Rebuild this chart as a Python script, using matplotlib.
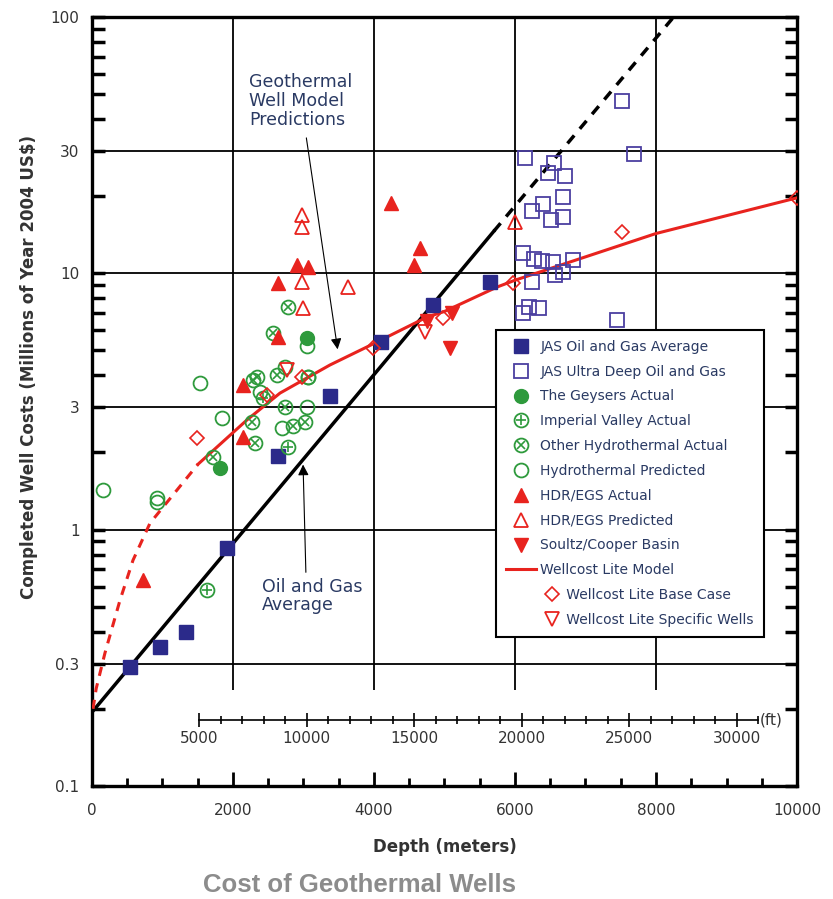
import matplotlib
matplotlib.use("Agg")
import matplotlib.pyplot as plt
from matplotlib.ticker import FixedLocator, NullFormatter
from matplotlib.legend_handler import HandlerLine2D
import matplotlib.transforms as mtransforms

# ---- data (depth in metres, cost in millions of 2004 US$) ----
jas_avg_x = [540, 965, 1333, 1915, 2638, 3376, 4099, 4837, 5645]
jas_avg_y = [0.29, 0.348, 0.40, 0.85, 1.94, 3.32, 5.39, 7.52, 9.25]

jas_deep_x = [7518, 7688, 6142, 6553, 6468, 6709, 6681, 6397, 6241, 6511, 6681,
              6113, 6270, 6383, 6539, 6823, 6567, 6681, 6241, 6113, 6199, 6340, 7447]
jas_deep_y = [47, 29.2, 28.2, 26.9, 24.6, 24.0, 19.9, 18.6, 17.5, 16.1, 16.6,
              12.0, 11.4, 11.2, 11.07, 11.3, 9.85, 10.1, 9.25, 7.0, 7.39, 7.32, 6.57]

geysers_x = [3050, 1816]
geysers_y = [5.6, 1.74]

imperial_x = [1631, 2426, 2780]
imperial_y = [0.58, 3.26, 2.10]

other_hydro_x = [2780, 2567, 2284, 2340, 2624, 2738, 2270, 2851, 3021, 2312, 1716, 3064]
other_hydro_y = [7.39, 5.85, 3.83, 3.94, 4.01, 3.01, 2.63, 2.54, 2.62, 2.18, 1.92, 3.94]

hydro_pred_x = [156, 922, 922, 1532, 1844, 3050, 2383, 2738, 3064, 3050, 2695]
hydro_pred_y = [1.43, 1.33, 1.28, 3.73, 2.73, 5.2, 3.44, 4.3, 3.94, 3.0, 2.5]

hdr_act_x = [4241, 4652, 4567, 2908, 3064, 2638, 2638, 2142, 2142, 723]
hdr_act_y = [18.8, 12.5, 10.8, 10.8, 10.6, 9.17, 5.64, 3.66, 2.3, 0.636]

hdr_pred_x = [2979, 2979, 2979, 3631, 2993, 6000]
hdr_pred_y = [16.9, 15.2, 9.25, 8.85, 7.32, 15.85]

soultz_x = [4752, 5106, 5078]
soultz_y = [6.5, 7.0, 5.11]

base_case_x = [1489, 2482, 2979, 3986, 4979, 5972, 7518, 10000]
base_case_y = [2.28, 3.35, 3.94, 5.11, 6.69, 9.17, 14.5, 19.7]

specific_x = [2766, 4723]
specific_y = [4.2, 5.9]

model_dash_x = [15, 60, 184, 397, 582, 823, 1035, 1504]
model_dash_y = [0.2, 0.24, 0.33, 0.53, 0.76, 1.06, 1.25, 1.8]
model_x = [1504, 2199, 2667, 3376, 3986, 4752, 5000, 5745, 6000, 8000, 10000]
model_y = [1.8, 2.68, 3.41, 4.39, 5.3, 6.75, 7.1, 8.84, 9.4, 14.3, 19.7]

oil_x = [0, 5700]
oil_y = [0.194, 14.6]
oil_dash_x = [5700, 8250]
oil_dash_y = [14.6, 100]

x_ticks = [0, 2000, 4000, 6000, 8000, 10000]
y_ticks = [0.1, 0.3, 1, 3, 10, 30, 100]
y_labels = ["0.1", "0.3", "1", "3", "10", "30", "100"]
ft_ticks = [5000, 10000, 15000, 20000, 25000, 30000]

navy = "#2b2a8a"
purple = "#4b3fa0"
green = "#2e9a3c"
red = "#e8231e"
txt = "#2a3a63"

fig = plt.figure(figsize=(8.33, 8.99), dpi=100)
ax = fig.add_axes([0.1104, 0.1257, 0.8464, 0.8554])
ax.set_yscale("log")
ax.set_xlim(0, 10000)
ax.set_ylim(0.1, 100)

# grid
for yv in y_ticks[1:-1]:
    ax.axhline(yv, color="black", lw=1.3, zorder=1)
ax.vlines(x_ticks[1:-1], 0.236, 100, color="black", lw=1.3, zorder=1)

# lines
ax.plot(oil_x, oil_y, color="black", lw=2.5, zorder=3)
ax.plot(oil_dash_x, oil_dash_y, color="black", lw=2.5, dashes=(3, 2.5), zorder=3)
ax.plot(model_dash_x, model_dash_y, color=red, lw=2.2, dashes=(3, 2.5), zorder=3)
model_line, = ax.plot(model_x, model_y, color=red, lw=2.2, zorder=3,
                      label="Wellcost Lite Model")

# markers
h_avg, = ax.plot(jas_avg_x, jas_avg_y, ls="none", marker="s", ms=9.5, color=navy, zorder=4)
h_deep, = ax.plot(jas_deep_x, jas_deep_y, ls="none", marker="s", ms=9.5, mfc="none",
                  mec=purple, mew=1.3, zorder=4)
h_hp, = ax.plot(hydro_pred_x, hydro_pred_y, ls="none", marker="o", ms=10, mfc="none",
                mec=green, mew=1.3, zorder=4)
h_oh_c, = ax.plot(other_hydro_x, other_hydro_y, ls="none", marker="o", ms=10, mfc="none",
                  mec=green, mew=1.3, zorder=4)
h_oh_x, = ax.plot(other_hydro_x, other_hydro_y, ls="none", marker="x", ms=5.5,
                  mec=green, mew=1.2, zorder=4)
h_iv_c, = ax.plot(imperial_x, imperial_y, ls="none", marker="o", ms=10, mfc="none",
                  mec=green, mew=1.3, zorder=4)
h_iv_p, = ax.plot(imperial_x, imperial_y, ls="none", marker="+", ms=6.5,
                  mec=green, mew=1.2, zorder=4)
h_gey, = ax.plot(geysers_x, geysers_y, ls="none", marker="o", ms=10, color=green, zorder=4)
h_hdr, = ax.plot(hdr_act_x, hdr_act_y, ls="none", marker="^", ms=10, color=red, zorder=4)
h_hdrp, = ax.plot(hdr_pred_x, hdr_pred_y, ls="none", marker="^", ms=10, mfc="none",
                  mec=red, mew=1.3, zorder=4)
h_sou, = ax.plot(soultz_x, soultz_y, ls="none", marker="v", ms=10, color=red, zorder=4)
h_base, = ax.plot(base_case_x, base_case_y, ls="none", marker="D", ms=7, mfc="none",
                  mec=red, mew=1.2, zorder=4)
h_spec, = ax.plot(specific_x, specific_y, ls="none", marker="v", ms=10, mfc="none",
                  mec=red, mew=1.3, zorder=4)

# annotations
ax.text(2227, 47, "Geothermal\nWell Model\nPredictions", color=txt, fontsize=12.5,
        ha="left", va="center", linespacing=1.05)
ax.annotate("", xy=(3490, 4.93), xytext=(3035, 34.6),
            arrowprops=dict(arrowstyle="-|>", color="black", lw=0.8, mutation_scale=16))
ax.text(2411, 0.551, "Oil and Gas\nAverage", color=txt, fontsize=12.5,
        ha="left", va="center", linespacing=1.05)
ax.annotate("", xy=(2993, 1.84), xytext=(3035, 0.665),
            arrowprops=dict(arrowstyle="-|>", color="black", lw=0.8, mutation_scale=16))

# axes styling
for s in ax.spines.values():
    s.set_linewidth(2.4)
ax.set_xticks(x_ticks)
ax.xaxis.set_minor_locator(FixedLocator(range(500, 10000, 500)))
ax.set_yticks(y_ticks)
ax.set_yticklabels(y_labels)
ax.yaxis.set_minor_locator(FixedLocator([v * d for d in (0.1, 1, 10) for v in (2, 4, 5, 6, 7, 8, 9)]))
ax.yaxis.set_minor_formatter(NullFormatter())
ax.tick_params(which="both", direction="in", color="black", labelsize=11, labelcolor="#333333")
ax.tick_params(axis="y", which="both", left=True, right=True, length=9, width=2.5, pad=9)
ax.tick_params(axis="x", which="major", length=10, width=2, pad=12)
ax.tick_params(axis="x", which="minor", length=6, width=2)

ax.set_xlabel("Depth (meters)", fontsize=12, fontweight="bold", color="#333333")
ax.xaxis.set_label_coords(0.5, -0.068)
ax.set_ylabel("Completed Well Costs (Millions of Year 2004 US$)", fontsize=12,
              fontweight="bold", color="#333333")
ax.yaxis.set_label_coords(-0.077, 0.545)

# feet scale
sec = ax.secondary_xaxis(0.086, functions=(lambda m: m / 0.3048, lambda f: f * 0.3048))
sec.set_xticks(ft_ticks)
sec.xaxis.set_minor_locator(FixedLocator(range(5000, 31001, 1000)))
sec.spines["bottom"].set_bounds(5000, 31000)
sec.spines["bottom"].set_linewidth(1.2)
sec.tick_params(which="major", direction="inout", length=10, width=1.2, labelsize=11,
                labelcolor="#333333", pad=3)
sec.tick_params(which="minor", direction="inout", length=6, width=1.2)
trans = mtransforms.blended_transform_factory(ax.transData, ax.transAxes)
ax.text(9470, 0.086, "(ft)", transform=trans, ha="left", va="center", fontsize=11,
        color="#333333")


class ShiftedHandler(HandlerLine2D):
    def __init__(self, shift, **kw):
        super().__init__(**kw)
        self.shift = shift

    def create_artists(self, legend, orig_handle, xdescent, ydescent, width, height,
                       fontsize, trans):
        return super().create_artists(legend, orig_handle, xdescent - self.shift, ydescent,
                                      width, height, fontsize, trans)


handles = [h_avg, h_deep, h_gey, (h_iv_c, h_iv_p), (h_oh_c, h_oh_x), h_hp, h_hdr, h_hdrp,
           h_sou, model_line, h_base, h_spec]
labels = ["JAS Oil and Gas Average", "JAS Ultra Deep Oil and Gas", "The Geysers Actual",
          "Imperial Valley Actual", "Other Hydrothermal Actual", "Hydrothermal Predicted",
          "HDR/EGS Actual", "HDR/EGS Predicted", "Soultz/Cooper Basin",
          "Wellcost Lite Model", "      Wellcost Lite Base Case",
          "      Wellcost Lite Specific Wells"]
leg = ax.legend(handles, labels, loc="upper left", bbox_to_anchor=(0.573, 0.593),
                borderaxespad=0, borderpad=0.7, fontsize=10, labelspacing=0.78,
                handlelength=2.2, handletextpad=0.3, fancybox=False, framealpha=1,
                edgecolor="black",
                handler_map={h_base: ShiftedHandler(22), h_spec: ShiftedHandler(22)})
leg.get_frame().set_linewidth(1.5)
for t in leg.get_texts():
    t.set_color(txt)
leg.set_zorder(10)

fig.text(0.432, 0.0156, "Cost of Geothermal Wells", ha="center", va="center",
         fontsize=18.5, fontweight="bold", color="#8c8c8c", family="Liberation Sans")

fig.savefig("out.png", dpi=100)
